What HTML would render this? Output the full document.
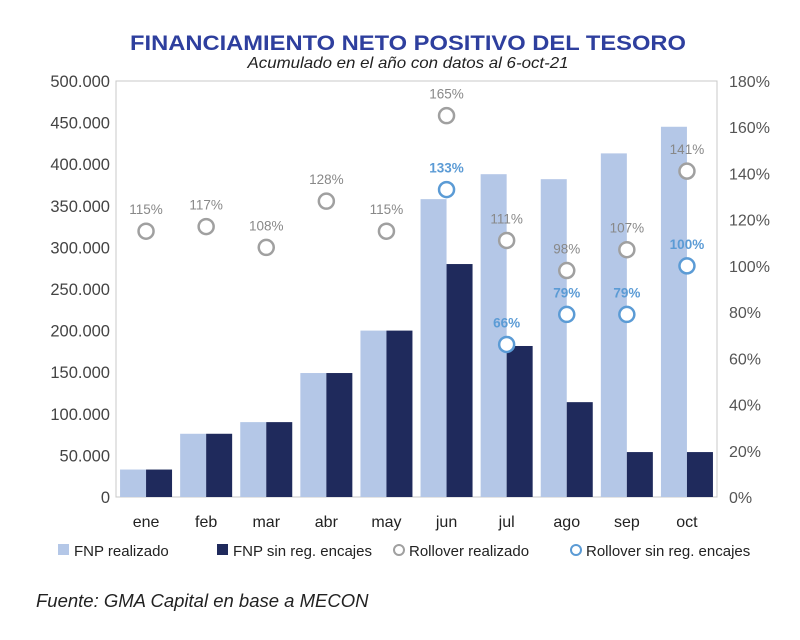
<!DOCTYPE html>
<html><head><meta charset="utf-8"><style>
body{margin:0;background:#fff;}
svg text{font-family:"Liberation Sans",sans-serif;}
</style></head><body>
<svg id="chart" width="800" height="635" xmlns="http://www.w3.org/2000/svg">
<text x="408" y="50" text-anchor="middle" font-size="21" font-weight="bold" fill="#2e3f9e" textLength="556" lengthAdjust="spacingAndGlyphs">FINANCIAMIENTO NETO POSITIVO DEL TESORO</text>
<text x="408" y="68" text-anchor="middle" font-size="16" font-style="italic" fill="#222" textLength="321" lengthAdjust="spacingAndGlyphs">Acumulado en el año con datos al 6-oct-21</text>
<rect x="116" y="81" width="601" height="416" fill="none" stroke="#c8c8c8" stroke-width="1"/>
<g id="marks"></g>
<text x="36" y="607" font-size="18.5" font-style="italic" fill="#222">Fuente: GMA Capital en base a MECON</text>
</svg>
<script>
const categories=["ene","feb","mar","abr","may","jun","jul","ago","sep","oct"];
const fnpRealizado=[33000,76000,90000,149000,200000,358000,388000,382000,413000,445000];
const fnpSinReg=[33000,76000,90000,149000,200000,280000,181500,114000,54000,54000];
const rollRealizado=[115,117,108,128,115,165,111,98,107,141];
const rollSinReg=[null,null,null,null,null,133,66,79,79,100];
const leftTicks=[0,50000,100000,150000,200000,250000,300000,350000,400000,450000,500000];
const rightTicks=[0,20,40,60,80,100,120,140,160,180];
const X0=116,X1=717,Y0=497,Y1=81;
const bw=(X1-X0)/categories.length;
const yL=v=>Y0-(v/500000)*(Y0-Y1);
const yR=v=>Y0-(v/180)*(Y0-Y1);
const cx=i=>X0+bw*(i+0.5);
const NS="http://www.w3.org/2000/svg";
const g=document.getElementById('marks');
function mk(tag,attrs,txt){const e=document.createElementNS(NS,tag);for(const k in attrs)e.setAttribute(k,attrs[k]);if(txt!=null)e.textContent=txt;g.appendChild(e);return e;}
const fmt=v=>v===0?"0":v.toLocaleString('de-DE');
leftTicks.forEach(t=>{const e=mk('text',{x:110,y:yL(t)+6,'text-anchor':'end','font-size':16.5,fill:'#444'},fmt(t));

});
rightTicks.forEach(t=>{const e=mk('text',{x:729,y:yR(t)+6,'font-size':16,fill:'#555'},t+'%');

});
categories.forEach((c,i)=>{
const a=mk('rect',{x:cx(i)-26,y:yL(fnpRealizado[i]),width:26,height:Y0-yL(fnpRealizado[i]),fill:'#b4c7e7'});


const b=mk('rect',{x:cx(i),y:yL(fnpSinReg[i]),width:26,height:Y0-yL(fnpSinReg[i]),fill:'#1f2a5c'});


const l=mk('text',{x:cx(i),y:527,'text-anchor':'middle','font-size':16,fill:'#222'},c);


});
categories.forEach((c,i)=>{
const y=yR(rollRealizado[i]);
const p=mk('circle',{cx:cx(i),cy:y,r:7.5,fill:'#fff',stroke:'#a0a0a0','stroke-width':2.5});


const t=mk('text',{x:cx(i),y:y-17,'text-anchor':'middle','font-size':13.5,fill:'#888'},rollRealizado[i]+'%');


if(rollSinReg[i]!=null){const y2=yR(rollSinReg[i]);
const q=mk('circle',{cx:cx(i),cy:y2,r:7.5,fill:'#fff',stroke:'#5b9bd5','stroke-width':2.5});


const u=mk('text',{x:cx(i),y:y2-17,'text-anchor':'middle','font-size':13.5,'font-weight':'bold',fill:'#5b9bd5'},rollSinReg[i]+'%');

}
});
const leg=[["rect","#b4c7e7","FNP realizado",58],["rect","#1f2a5c","FNP sin reg. encajes",217],["c","#a0a0a0","Rollover realizado",393],["c","#5b9bd5","Rollover sin reg. encajes",570]];
leg.forEach(L=>{
let s;if(L[0]=="rect")s=mk('rect',{x:L[3],y:544,width:11,height:11,fill:L[1]});
else s=mk('circle',{cx:L[3]+6,cy:550,r:5,fill:'#fff',stroke:L[1],'stroke-width':2});


const t=mk('text',{x:L[3]+16,y:556,'font-size':15,fill:'#222'},L[2]);


});
</script>
</body></html>
